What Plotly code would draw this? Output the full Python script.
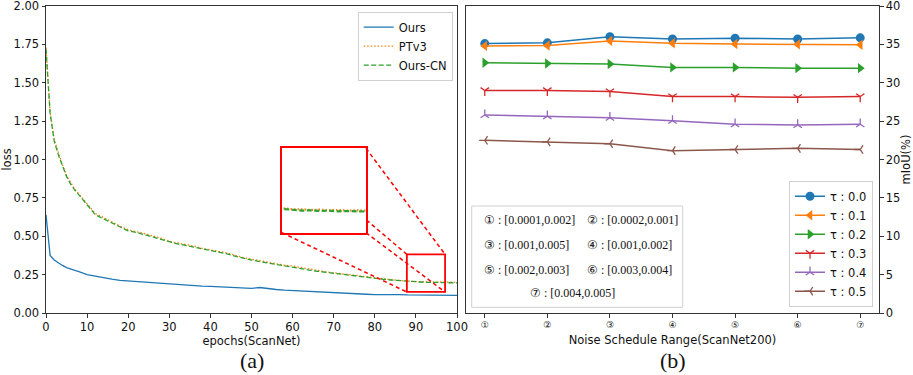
import plotly.graph_objects as go

# ---- (a) training loss ----
epochs = [0, 1, 2, 3, 4, 5, 6, 7, 8, 9, 10, 12, 14, 16, 18, 20, 22, 24, 26, 28, 30,
          32, 34, 36, 38, 40, 42, 44, 46, 48, 50, 52, 54, 56, 58, 60, 62, 64, 66, 68,
          70, 72, 74, 76, 78, 80, 82, 84, 86, 88, 89, 90, 91, 92, 93, 94, 95, 96, 98, 100]
loss_ours = [0.64, 0.375, 0.345, 0.325, 0.31, 0.296, 0.285, 0.277, 0.27, 0.26, 0.25,
             0.24, 0.228, 0.22, 0.213, 0.209, 0.205, 0.2, 0.196, 0.192, 0.188,
             0.184, 0.181, 0.178, 0.175, 0.173, 0.171, 0.17, 0.168, 0.165, 0.161,
             0.166, 0.158, 0.153, 0.149, 0.146, 0.143, 0.14, 0.137, 0.134, 0.13,
             0.127, 0.126, 0.124, 0.122, 0.12, 0.121, 0.119, 0.12, 0.118, 0.118, 0.117,
             0.118, 0.119, 0.117, 0.116, 0.116, 0.115, 0.116, 0.115]
loss_ptv3 = [1.73, 1.31, 1.13, 1.04, 0.965, 0.895, 0.848, 0.808, 0.775, 0.742, 0.712,
             0.648, 0.622, 0.592, 0.566, 0.542, 0.532, 0.517, 0.502, 0.487, 0.466,
             0.456, 0.447, 0.436, 0.421, 0.411, 0.4, 0.392, 0.376, 0.361, 0.351,
             0.341, 0.331, 0.321, 0.311, 0.306, 0.296, 0.286, 0.277, 0.269, 0.262,
             0.255, 0.248, 0.241, 0.235, 0.228, 0.223, 0.217, 0.212, 0.207, 0.205, 0.205,
             0.203, 0.204, 0.202, 0.203, 0.201, 0.202, 0.2, 0.199]
loss_ours_cn = [1.72, 1.3, 1.12, 1.03, 0.96, 0.89, 0.84, 0.8, 0.77, 0.735, 0.705,
                0.64, 0.615, 0.585, 0.56, 0.535, 0.525, 0.51, 0.495, 0.48, 0.46,
                0.45, 0.44, 0.43, 0.415, 0.405, 0.395, 0.385, 0.37, 0.355, 0.345,
                0.335, 0.325, 0.315, 0.305, 0.3, 0.29, 0.28, 0.272, 0.265, 0.258,
                0.252, 0.245, 0.238, 0.232, 0.225, 0.22, 0.215, 0.21, 0.205, 0.204, 0.201,
                0.202, 0.2, 0.201, 0.199, 0.2, 0.198, 0.197, 0.196]
loss_names = ["Ours", "PTv3", "Ours-CN"]
zoom_x = [87.8, 97.1]
zoom_y = [0.137, 0.382]

# ---- (b) noise schedule ----
schedule_ticks = ["①", "②", "③", "④", "⑤", "⑥", "⑦"]
schedule_ranges = ["[0.0001,0.002]", "[0.0002,0.001]", "[0.001,0.005]", "[0.001,0.002]",
                   "[0.002,0.003]", "[0.003,0.004]", "[0.004,0.005]"]
tau_labels = ["τ : 0.0", "τ : 0.1", "τ : 0.2", "τ : 0.3", "τ : 0.4", "τ : 0.5"]
miou_tau00 = [35.1, 35.2, 36.0, 35.7, 35.8, 35.7, 35.85]
miou_tau01 = [34.8, 34.85, 35.45, 35.15, 35.05, 35.0, 34.95]
miou_tau02 = [32.6, 32.5, 32.45, 32.0, 32.0, 31.9, 31.9]
miou_tau03 = [29.0, 29.0, 28.85, 28.2, 28.2, 28.1, 28.2]
miou_tau04 = [25.8, 25.65, 25.45, 25.05, 24.6, 24.5, 24.6]
miou_tau05 = [22.5, 22.3, 22.05, 21.15, 21.3, 21.45, 21.3]

W, H = 913, 375
ML, MR, MT, MB = 46, 34, 6, 62
PW, PH = W - ML - MR, H - MT - MB


def fx(px):
    return (px - ML) / PW


def fy(py):
    return (H - MB - py) / PH


FONT = "DejaVu Sans"
SERIF = "Liberation Serif, Times New Roman, serif"
AX = "#333333"
dom_a = [fx(46), fx(457)]
dom_b = [fx(466), 1.0]
dom_ix = [fx(282), fx(366)]
dom_iy = [fy(232.7), fy(148.3)]

fig = go.Figure()

loss_styles = [
    dict(color="#1f77b4", width=1.3),
    dict(color="#ff7f0e", width=1.3, dash="1.5px,2px"),
    dict(color="#2ca02c", width=1.3, dash="5px,2.5px"),
]
for name, ys, st in zip(loss_names, [loss_ours, loss_ptv3, loss_ours_cn], loss_styles):
    fig.add_trace(go.Scatter(x=epochs, y=ys, mode="lines", name=name, line=st,
                             xaxis="x", yaxis="y", legend="legend"))
for name, ys, st in zip(loss_names, [loss_ours, loss_ptv3, loss_ours_cn], loss_styles):
    fig.add_trace(go.Scatter(x=epochs, y=ys, mode="lines", name=name,
                             line=dict(st, width=2.2), xaxis="x3", yaxis="y3",
                             showlegend=False))

tau_colors = ["#1f77b4", "#ff7f0e", "#2ca02c", "#d62728", "#9467bd", "#8c564b"]
tau_symbols = ["circle", "triangle-left", "triangle-right", "y-down", "y-up", "y-left"]
tau_series = [miou_tau00, miou_tau01, miou_tau02, miou_tau03, miou_tau04, miou_tau05]
for lab, ys, c, s in zip(tau_labels, tau_series, tau_colors, tau_symbols):
    is_y = s.startswith("y")
    fig.add_trace(go.Scatter(
        x=list(range(len(schedule_ticks))), y=ys, mode="lines+markers", name=lab,
        line=dict(color=c, width=1.5),
        marker=dict(symbol=s, size=7 if is_y else 9, color=c,
                    line=dict(color=c, width=1.3 if is_y else 0)),
        xaxis="x2", yaxis="y2", legend="legend2"))

axis_common = dict(showline=True, linecolor=AX, linewidth=1, mirror=True, showgrid=False,
                   zeroline=False, ticks="outside", ticklen=3.5, tickwidth=1, tickcolor=AX,
                   automargin=False, ticklabeloverflow="allow",
                   tickfont=dict(family=FONT, size=11.5, color="#111"))
inset_axis = dict(showticklabels=False, ticks="", showgrid=False, zeroline=False,
                  showline=True, mirror=True, linecolor="red", linewidth=2, automargin=False)


# zoom rectangle and connector lines (paper coords)
def ax_px(x):
    return dom_a[0] + x / 100 * (dom_a[1] - dom_a[0])


def ay_py(y):
    return y / 2.0


sx0, sx1 = ax_px(zoom_x[0]), ax_px(zoom_x[1])
sy0, sy1 = ay_py(zoom_y[0]), ay_py(zoom_y[1])
ix0, ix1 = dom_ix
iy0, iy1 = dom_iy
red_dash = dict(color="red", width=1.5, dash="4px,3px")
shapes = [
    dict(type="rect", xref="paper", yref="paper", x0=sx0, x1=sx1, y0=sy0, y1=sy1,
         line=dict(color="red", width=1.8), layer="above"),
    dict(type="line", xref="paper", yref="paper", x0=ix1, y0=iy1, x1=sx1, y1=sy1, line=red_dash),
    dict(type="line", xref="paper", yref="paper", x0=ix0, y0=iy0, x1=sx0, y1=sy0, line=red_dash),
    dict(type="line", xref="paper", yref="paper", x0=ix1, y0=iy0, x1=sx1, y1=sy0, line=red_dash),
]
t = (ix1 - sx0) / (ix0 - sx0)
shapes.append(dict(type="line", xref="paper", yref="paper", x0=sx0, y0=sy1,
                   x1=ix1, y1=sy1 + t * (iy1 - sy1), line=red_dash))
# text box for schedule ranges
shapes.append(dict(type="rect", xref="paper", yref="paper", x0=fx(471.7), x1=fx(682.7),
                   y0=fy(307.3), y1=fy(206), line=dict(color="#d0d0d0", width=1)))

annotations = []
cols = [fx(481.7), fx(585)]
rows = [fy(220), fy(245), fy(270)]
for i, rng in enumerate(schedule_ranges):
    if i < 6:
        ax_, ay_ = cols[i % 2], rows[i // 2]
    else:
        ax_, ay_ = fx(527.7), fy(293.3)
    annotations.append(dict(text=f"{schedule_ticks[i]} : {rng}", x=ax_, y=ay_, xref="paper",
                            yref="paper", xanchor="left", yanchor="middle", showarrow=False,
                            font=dict(family=SERIF, size=12, color="#111")))
for lab, cx in [("(a)", (dom_a[0] + dom_a[1]) / 2), ("(b)", (dom_b[0] + dom_b[1]) / 2)]:
    annotations.append(dict(text=lab, x=cx, y=fy(360), xref="paper", yref="paper",
                            xanchor="center", yanchor="middle", showarrow=False,
                            font=dict(family=SERIF, size=22, color="#111")))

fig.update_layout(
    width=W, height=H,
    margin=dict(l=ML, r=MR, t=MT, b=MB, autoexpand=False),
    paper_bgcolor="white", plot_bgcolor="white",
    font=dict(family=FONT, size=11.5, color="#111"),
    xaxis=dict(axis_common, domain=dom_a, range=[0, 100], dtick=10, anchor="y",
               title=dict(text="epochs(ScanNet)", standoff=3, font=dict(size=11.5))),
    yaxis=dict(axis_common, domain=[0, 1], range=[0, 2], dtick=0.25, tickformat=".2f",
               anchor="x", title=dict(text="loss", standoff=2, font=dict(size=11.5))),
    xaxis2=dict(axis_common, domain=dom_b, range=[-0.3, 6.3], anchor="y2",
                tickvals=list(range(len(schedule_ticks))), ticktext=schedule_ticks,
                tickfont=dict(family=FONT, size=9, color="#111"),
                title=dict(text="Noise Schedule Range(ScanNet200)", standoff=6,
                           font=dict(size=11.5))),
    yaxis2=dict(axis_common, domain=[0, 1], range=[0, 40], dtick=5, side="right",
                anchor="x2", title=dict(text="mIoU(%)", standoff=2, font=dict(size=11.5))),
    xaxis3=dict(inset_axis, domain=dom_ix, range=zoom_x, anchor="y3"),
    yaxis3=dict(inset_axis, domain=dom_iy, range=zoom_y, anchor="x3"),
    legend=dict(x=fx(452.7), y=fy(11.7), xanchor="right", yanchor="top",
                bordercolor="#d0d0d0", borderwidth=1, bgcolor="white",
                font=dict(family=FONT, size=11.5), itemwidth=30),
    legend2=dict(x=fx(873), y=fy(306.7), xanchor="right", yanchor="bottom",
                 bordercolor="#d0d0d0", borderwidth=1, bgcolor="white",
                 font=dict(family=FONT, size=11.5), itemwidth=30),
    shapes=shapes,
    annotations=annotations,
)

# the page's default 8px body margin would shift the figure; remove it
fig.write_html("out.html", config={"displayModeBar": False},
               post_script="document.body.style.margin = '0';")
